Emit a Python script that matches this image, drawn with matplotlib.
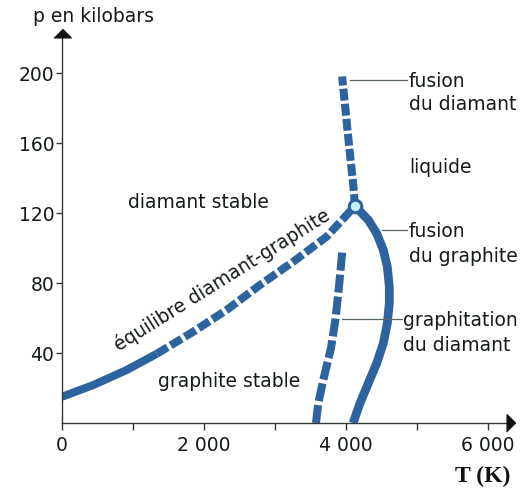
import matplotlib
matplotlib.use("Agg")
import matplotlib.pyplot as plt
from matplotlib.ticker import FixedLocator

plt.rcParams['font.family'] = ['DejaVu Sans']
plt.rcParams['lines.scale_dashes'] = False

# ---------------- data ----------------
# diamond-graphite equilibrium (solid part, then dashed part)
eq_solid_T = [0, 441, 911, 1333]
eq_solid_p = [15, 21.7, 30.3, 39.5]
eq_dash_T = [1333, 1850, 2319, 2789, 3258, 3728, 4127]
eq_dash_p = [39.5, 52.2, 64.6, 78.9, 92.2, 106.5, 124]

# diamond melting (dashed)
fd_T = [4127, 4100, 4060, 4025, 3985, 3945]
fd_p = [124, 137, 152, 166, 182, 198]

# graphite melting (solid)
fg_T = [4127, 4314, 4432, 4525, 4582, 4610, 4610, 4582, 4525, 4432, 4314, 4197, 4100]
fg_p = [124, 116, 108.4, 98.9, 89.3, 77.9, 68.4, 57, 45.5, 34.1, 22.7, 11.3, 0]

# graphitization of diamond (dashed)
gr_T = [3577, 3610, 3680, 3789, 3852, 3901, 3951]
gr_p = [0, 11.3, 24.6, 42.9, 59.4, 77.9, 99.4]

triple_T = [4127]
triple_p = [124]

xticks_major = [0, 2000, 4000, 6000]
xtick_labels = ["0", "2 000", "4 000", "6 000"]
xticks_minor = [1000, 3000, 5000]
yticks = [40, 80, 120, 160, 200]
ytick_labels = ["40", "80", "120", "160", "200"]

# ---------------- figure ----------------
W, H = 528, 490
fig = plt.figure(figsize=(W / 100, H / 100), dpi=100)
XMAX, YMAX = 6324, 223
ax = fig.add_axes([62 / W, (H - 423) / H, 449 / W, 390.25 / H])
ax.set_xlim(0, XMAX)
ax.set_ylim(0, YMAX)

blue = '#2d64a0'
txt = '#141a1a'
axc = '#333838'
lw = 5.8

ax.plot(eq_solid_T, eq_solid_p, color=blue, lw=lw, solid_capstyle='butt', solid_joinstyle='round')
ax.plot(eq_dash_T, eq_dash_p, color=blue, lw=lw, linestyle=(0, (9.2, 2.6)),
        dash_capstyle='butt', dash_joinstyle='round')
ax.plot(fd_T, fd_p, color=blue, lw=lw, linestyle=(0, (8.6, 2.3)),
        dash_capstyle='butt', dash_joinstyle='round')
ax.plot(fg_T, fg_p, color=blue, lw=6.3, solid_capstyle='butt', solid_joinstyle='round')
ax.plot(gr_T, gr_p, color=blue, lw=lw, linestyle=(0, (13.0, 2.9)),
        dash_capstyle='butt', dash_joinstyle='round')
ax.plot(triple_T, triple_p, 'o', ms=9, mfc='#c9eef3', mec=blue, mew=2.2, zorder=5)

# leader lines
lc = '#5a6666'
ax.plot([4056, 4859], [196, 196], color=lc, lw=0.9)
ax.plot([4507, 4859], [110.3, 110.3], color=lc, lw=0.9)
ax.plot([3939, 4785], [59.2, 59.2], color=lc, lw=0.9)

fs = 13.5
ax.text(4887, 191.8, "fusion", fontsize=fs, color=txt, va='baseline')
ax.text(4887, 178.9, "du diamant", fontsize=fs, color=txt, va='baseline')
ax.text(4887, 142.7, "liquide", fontsize=fs, color=txt, va='baseline')
ax.text(4887, 106.5, "fusion", fontsize=fs, color=txt, va='baseline')
ax.text(4887, 92.2, "du graphite", fontsize=fs, color=txt, va='baseline')
ax.text(4803, 55.4, "graphitation", fontsize=fs, color=txt, va='baseline')
ax.text(4803, 41.1, "du diamant", fontsize=fs, color=txt, va='baseline')
ax.text(930, 123, "diamant stable", fontsize=fs, color=txt, va='baseline')
ax.text(1352, 20.8, "graphite stable", fontsize=fs, color=txt, va='baseline')
ax.text(2260, 81.5, "équilibre diamant-graphite", fontsize=fs, color=txt,
        rotation=32, rotation_mode='anchor', ha='center', va='center')

# axes styling
for s in ['top', 'right']:
    ax.spines[s].set_visible(False)
for s in ['left', 'bottom']:
    ax.spines[s].set_color(axc)
    ax.spines[s].set_linewidth(1.0)

ax.xaxis.set_major_locator(FixedLocator(xticks_major))
ax.set_xticklabels(xtick_labels)
ax.xaxis.set_minor_locator(FixedLocator(xticks_minor))
ax.yaxis.set_major_locator(FixedLocator(yticks))
ax.set_yticklabels(ytick_labels)
ax.tick_params(axis='x', which='both', direction='out', length=5, width=1.0,
               color=axc, labelsize=fs, labelcolor=txt, pad=4)
ax.tick_params(axis='y', which='both', direction='out', length=4, width=1.0,
               color=axc, labelsize=fs, labelcolor=txt, pad=1.5)

# arrow heads
ax.plot([0], [YMAX], marker=[(-1, -0.5), (1, -0.5), (0, 0.5)], ms=12.5,
        color='#111111', clip_on=False, zorder=6)
ax.plot([XMAX], [0], marker=[(-0.5, -1), (-0.5, 1), (0.5, 0)], ms=12.5,
        color='#111111', clip_on=False, zorder=6)

fig.text(33 / W, 1 - 22 / H, "p en kilobars", fontsize=fs, color=txt, va='baseline')
fig.text(483 / W, 1 - 482 / H, "T (K)", fontsize=17, color='#111111', va='baseline',
         ha='center', family=['Liberation Serif'], weight='bold')

fig.savefig("out.png", dpi=100, facecolor='white')
